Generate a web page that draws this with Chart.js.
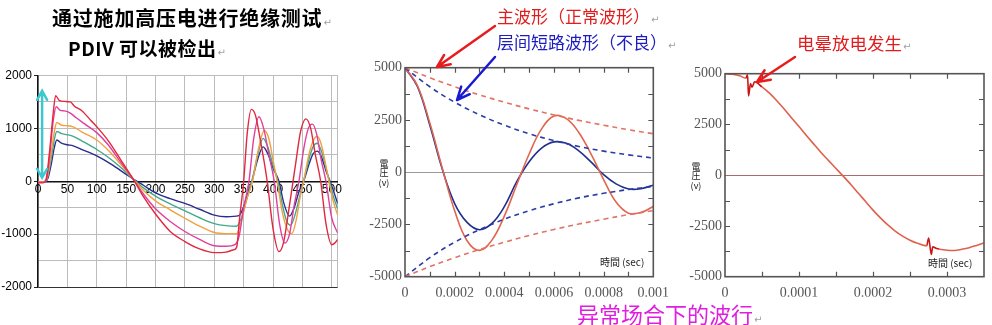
<!DOCTYPE html>
<html>
<head>
<meta charset="utf-8">
<script src="https://cdn.jsdelivr.net/npm/chart.js@4.4.1/dist/chart.umd.min.js"></script>
<style>
  body { margin: 0; width: 992px; height: 325px; position: relative; overflow: hidden; background: #fff;
         font-family: "Noto Sans CJK SC", sans-serif; }
  canvas { position: absolute; }
  .t { position: absolute; white-space: nowrap; }
  .rt { font-family: "DejaVu Sans", sans-serif; font-size: 10px; color: #a0a0a0; font-weight: normal; margin-left: 1px; }
  .tm { position: absolute; font-size: 10px; line-height: 12px; color: #222; white-space: nowrap;
        font-family: "Noto Sans CJK JP", sans-serif; }
</style>
</head>
<body>
<canvas id="scope" width="345" height="236" style="left:0;top:64px"></canvas>
<canvas id="surge" width="330" height="260" style="left:340px;top:50px"></canvas>
<canvas id="corona" width="322" height="255" style="left:670px;top:55px"></canvas>
<canvas id="arrows" width="992" height="325" style="left:0;top:0"></canvas>

<div class="t" style="left:52px;top:4px;font-size:20px;line-height:28px;font-weight:700;letter-spacing:0.8px">通过施加高压电进行绝缘测试<span class="rt">↵</span></div>
<div class="t" style="left:68px;top:34px;font-size:19px;line-height:28px;font-weight:700;letter-spacing:0.5px">PDIV 可以被检出<span class="rt">↵</span></div>

<div class="t" style="left:497px;top:4px;font-size:17px;line-height:24px;color:#e01c1c">主波形（正常波形）<span class="rt">↵</span></div>
<div class="t" style="left:497px;top:30px;font-size:17px;line-height:24px;color:#1c1cc0">层间短路波形（不良）<span class="rt">↵</span></div>
<div class="t" style="left:797px;top:31px;font-size:17.5px;line-height:24px;color:#e01c1c">电晕放电发生<span class="rt">↵</span></div>
<div class="t" style="left:577px;top:299px;font-size:22px;line-height:28px;color:#e01ee0">异常场合下的波行<span class="rt">↵</span></div>

<div class="tm" style="left:600px;top:256px">時間 (sec)</div>
<div class="tm" style="left:928px;top:257px">時間 (sec)</div>

<script>
// ---- PDIV scope traces (x = sample index, y = volts) ----
const scopeXTicks = [0, 50, 100, 150, 200, 250, 300, 350, 400, 450, 500, 510];
const scopeYTicks = [-2000, -1500, -1000, -500, 0, 500, 1000, 1500, 2000];

const navyX = [0, 12, 17, 23, 28, 32, 40, 50, 60, 75, 100, 125, 150, 165, 180, 200, 225, 250, 275, 300, 320, 342, 350, 358, 364, 374, 383, 391, 400, 410, 418, 428, 436, 444, 452, 462, 468, 475, 482, 490, 497, 504, 510];
const navyY = [-10, -10, 60, 350, 650, 780, 720, 690, 670, 600, 480, 320, 130, 20, -80, -220, -330, -420, -530, -640, -670, -650, -480, -200, 0, 420, 650, 520, 250, 0, -400, -660, -500, -200, 0, 350, 520, 570, 470, 200, 0, -220, -420];

const tealX = [0, 10, 16, 22, 28, 32, 40, 50, 60, 75, 100, 120, 140, 164, 180, 200, 225, 250, 275, 300, 320, 338, 345, 355, 364, 374, 383, 391, 400, 408, 416, 423, 430, 437, 445, 452, 462, 468, 475, 482, 489, 496, 503, 510];
const tealY = [-10, -10, 60, 400, 800, 940, 900, 880, 850, 760, 600, 450, 270, 20, -130, -280, -430, -560, -690, -800, -840, -850, -730, -350, 0, 500, 810, 650, 300, 0, -450, -750, -830, -650, -300, 0, 450, 650, 720, 580, 300, 0, -300, -520];

const orangeX = [0, 10, 16, 22, 28, 32, 40, 50, 60, 75, 100, 120, 140, 163, 180, 200, 225, 250, 275, 300, 320, 338, 345, 355, 365, 375, 385, 393, 400, 407, 416, 424, 432, 440, 446, 452, 462, 470, 475, 482, 488, 495, 503, 510];
const orangeY = [-10, -10, 80, 500, 950, 1110, 1060, 1050, 1030, 930, 780, 580, 330, 30, -180, -370, -540, -700, -850, -970, -990, -990, -800, -350, 0, 600, 960, 800, 400, 0, -600, -900, -990, -700, -300, 0, 550, 800, 850, 700, 400, 0, -400, -640];

const pinkX = [0, 10, 15, 20, 26, 31, 38, 45, 55, 65, 80, 100, 120, 140, 162, 180, 200, 225, 250, 275, 300, 320, 335, 342, 350, 359, 367, 376, 384, 393, 402, 411, 420, 428, 436, 444, 452, 460, 467, 474, 482, 490, 500, 510];
const pinkY = [-20, -20, 60, 500, 1150, 1410, 1340, 1330, 1290, 1200, 1080, 920, 680, 370, 40, -250, -520, -760, -950, -1100, -1220, -1230, -1200, -1050, -500, 0, 800, 1220, 1000, 500, 0, -800, -1170, -1000, -450, 0, 600, 1000, 1080, 900, 400, 0, -700, -980];

const redX = [0, 8, 14, 20, 26, 30, 36, 45, 55, 62, 75, 90, 100, 120, 140, 162, 180, 200, 225, 250, 275, 300, 320, 332, 338, 343, 350, 356, 363, 370, 378, 390, 400, 410, 418, 428, 438, 447, 456, 464, 472, 481, 490, 500, 505, 510];
const redY = [-30, -30, 50, 600, 1300, 1620, 1530, 1510, 1500, 1420, 1330, 1150, 1030, 760, 420, 40, -300, -620, -950, -1140, -1280, -1350, -1340, -1300, -1250, -700, 0, 900, 1360, 1250, 800, 0, -900, -1330, -1150, -450, 300, 950, 1180, 1000, 500, 0, -800, -1200, -1170, -1100];

// cyan double arrow marking the PDIV swing
const pdivMarkX = 7;
const pdivMarkSpan = [66, 1710];

// ---- surge test: normal vs. layer-short waveform (t in s, volts) ----
const surgeT = [0, 0.00005, 0.0001, 0.00015, 0.0002, 0.00025, 0.0003, 0.00035, 0.0004, 0.00045, 0.0005,
                0.00055, 0.0006, 0.00065, 0.0007, 0.00075, 0.0008, 0.00085, 0.0009, 0.00095, 0.001];
const mainWave =    [5000, 4150, 2350, 200, -1850, -3280, -3740, -3250, -2100, -600, 870,
                     2070, 2690, 2560, 1900, 850, -350, -1430, -1960, -1930, -1640];
const shortedWave = [5000, 4100, 2250, 150, -1500, -2400, -2750, -2450, -1650, -450, 500,
                     1150, 1450, 1380, 1020, 480, -120, -560, -800, -790, -620];
const envT = [0, 0.0001, 0.0002, 0.0003, 0.0004, 0.0005, 0.0006, 0.0007, 0.0008, 0.0009, 0.001];
const mainEnv =    [5000, 4520, 4090, 3700, 3350, 3030, 2740, 2480, 2250, 2030, 1840];
const shortedEnv = [5000, 4090, 3350, 2750, 2250, 1840, 1510, 1230, 1010, 830, 680];

const surgeXTicks = [0, 0.0002, 0.0004, 0.0006, 0.0008, 0.001];
const surgeXLabels = ['0', '0.0002', '0.0004', '0.0006', '0.0008', '0.001'];
const surgeXMarks = [0.0001, 0.0002, 0.0003, 0.0004, 0.0005, 0.0006, 0.0007, 0.0008, 0.0009];
const voltTicks = [-5000, -2500, 0, 2500, 5000];
const voltLabels = ['-5000', '-2500', '0', '2500', '5000'];
const voltMarks = [-3750, -2500, -1250, 1250, 2500, 3750];
const voltTitle = ['電', '圧', '(v)'];

// ---- corona discharge waveform ----
const coronaT = [0, 0.00001, 0.00002, 0.000028, 0.0000305, 0.0000318, 0.0000345, 0.0000365, 0.00004,
                 0.00005, 0.00006, 0.00007, 0.00008, 0.00009, 0.0001, 0.00011, 0.00012, 0.00013, 0.00014,
                 0.00015, 0.00016, 0.00017, 0.00018, 0.00019, 0.0002, 0.00021, 0.00022, 0.00023, 0.00024,
                 0.00025, 0.00026, 0.0002725, 0.0002752, 0.0002788, 0.0002807, 0.000286, 0.00029, 0.0003,
                 0.00031, 0.00032, 0.00033, 0.00034, 0.00035];
const coronaV = [5000, 4975, 4900, 4780, 4950, 3900, 4520, 4330, 4600,
                 4350, 4040, 3670, 3260, 2820, 2400, 1960, 1530, 1110, 720,
                 330, -60, -460, -880, -1300, -1720, -2100, -2450, -2750, -3000,
                 -3200, -3350, -3480, -3090, -3910, -3530, -3615, -3650, -3700,
                 -3710, -3650, -3570, -3460, -3340];
const coronaBursts = [[0.000027, 0.000041], [0.000272, 0.000287]];
const coronaXTicks = [0, 0.0001, 0.0002, 0.0003];
const coronaXLabels = ['0', '0.0001', '0.0002', '0.0003'];
const coronaXMarks = [0.00005, 0.0001, 0.00015, 0.0002, 0.00025, 0.0003];

const pts = (xs, ys) => xs.map((x, i) => ({ x: x, y: ys[i] }));
const serif = { family: "'Liberation Serif', 'DejaVu Serif', serif", size: 14 };

// box frame with inward tick marks, plus the stacked y title
const framePlugin = {
    id: 'frame',
    afterDatasetsDraw(chart, args, opts) {
        const { ctx, chartArea: a, scales: { x, y } } = chart;
        ctx.save();
        ctx.strokeStyle = opts.color;
        ctx.lineWidth = 1.2;
        ctx.beginPath();
        (opts.xMarks || []).forEach(v => {
            const px = Math.round(x.getPixelForValue(v)) + 0.5;
            ctx.moveTo(px, a.bottom); ctx.lineTo(px, a.bottom - opts.len);
            ctx.moveTo(px, a.top); ctx.lineTo(px, a.top + opts.len);
        });
        (opts.yMarks || []).forEach(v => {
            const py = Math.round(y.getPixelForValue(v)) + 0.5;
            ctx.moveTo(a.left, py); ctx.lineTo(a.left + opts.len, py);
            ctx.moveTo(a.right, py); ctx.lineTo(a.right - opts.len, py);
        });
        ctx.stroke();
        ctx.lineWidth = 1.6;
        ctx.strokeRect(a.left, a.top, a.right - a.left, a.bottom - a.top);

        if (opts.title) {
            const cx = a.left - opts.titleGap;
            const cy = y.getPixelForValue(0);
            ctx.fillStyle = '#222';
            ctx.font = "9px 'Noto Sans CJK JP', sans-serif";
            ctx.textAlign = 'center';
            ctx.textBaseline = 'middle';
            opts.title.forEach((s, i) => ctx.fillText(s, cx, cy - 9 + i * 9.5));
        }
        ctx.restore();
    }
};

// vertical double-headed arrow on the scope plot
const spanArrow = {
    id: 'spanArrow',
    afterDatasetsDraw(chart) {
        const { ctx, scales: { x, y } } = chart;
        const px = x.getPixelForValue(pdivMarkX);
        const top = y.getPixelForValue(pdivMarkSpan[1]);
        const bot = y.getPixelForValue(pdivMarkSpan[0]);
        ctx.save();
        ctx.strokeStyle = '#3cc8cc';
        ctx.lineWidth = 2.5;
        ctx.lineCap = 'round';
        ctx.beginPath();
        ctx.moveTo(px, top); ctx.lineTo(px, bot);
        ctx.moveTo(px - 5, top + 9); ctx.lineTo(px, top); ctx.lineTo(px + 5, top + 9);
        ctx.moveTo(px - 5, bot - 9); ctx.lineTo(px, bot); ctx.lineTo(px + 5, bot - 9);
        ctx.stroke();
        ctx.restore();
    }
};

const scopeSeries = [
    { x: redX, y: redY, color: '#e2283e' },
    { x: pinkX, y: pinkY, color: '#e0409c' },
    { x: orangeX, y: orangeY, color: '#f2a040' },
    { x: tealX, y: tealY, color: '#40aa8a' },
    { x: navyX, y: navyY, color: '#2a2c8e' }
];

const scopeFont = { family: "'Liberation Sans Narrow', 'Liberation Sans', sans-serif", size: 12 };

new Chart(document.getElementById('scope'), {
    type: 'line',
    data: {
        datasets: scopeSeries.map(s => ({
            data: pts(s.x, s.y),
            borderColor: s.color,
            borderWidth: 1.4,
            pointRadius: 0,
            cubicInterpolationMode: 'monotone'
        }))
    },
    options: {
        responsive: false,
        animation: false,
        layout: { padding: { left: 0, top: 11.5, right: 7.3, bottom: 13 } },
        plugins: { legend: { display: false }, tooltip: { enabled: false } },
        scales: {
            x: {
                type: 'linear', position: { y: 0 }, min: 0, max: 510,
                afterBuildTicks: s => { s.ticks = scopeXTicks.map(v => ({ value: v })); },
                ticks: { callback: v => (v === 510 ? '' : String(v)), font: scopeFont, color: '#000',
                         padding: 1, maxRotation: 0, autoSkip: false },
                grid: { color: '#bcbcbc', drawTicks: false },
                border: { color: '#111', width: 1.5 }
            },
            y: {
                min: -2000, max: 2000,
                afterBuildTicks: s => { s.ticks = scopeYTicks.map(v => ({ value: v })); },
                afterFit: s => { s.width = 38; },
                ticks: { callback: v => (v % 1000 === 0 ? String(v) : ''), font: scopeFont, color: '#000', padding: 2 },
                grid: {
                    color: c => (c.tick && c.tick.value === -2000 ? '#333' : '#bcbcbc'),
                    tickLength: 4,
                    tickColor: c => (c.tick && c.tick.value % 1000 === 0 ? '#222' : 'rgba(0,0,0,0)')
                },
                border: { color: '#111', width: 1.5 }
            }
        }
    },
    plugins: [spanArrow]
});

new Chart(document.getElementById('surge'), {
    type: 'line',
    data: {
        datasets: [
            { data: pts(envT, mainEnv), borderColor: '#e07464', borderDash: [5, 4] },
            { data: pts(envT, mainEnv.map(v => -v)), borderColor: '#e07464', borderDash: [5, 4] },
            { data: pts(envT, shortedEnv), borderColor: '#2a3ca6', borderDash: [5, 4] },
            { data: pts(envT, shortedEnv.map(v => -v)), borderColor: '#2a3ca6', borderDash: [5, 4] },
            { data: pts(surgeT, mainWave), borderColor: '#e0664f' },
            { data: pts(surgeT, shortedWave), borderColor: '#1f2f8e' }
        ].map(d => Object.assign({ borderWidth: 1.6, pointRadius: 0, tension: 0.4 }, d))
    },
    options: {
        responsive: false,
        animation: false,
        layout: { padding: { left: 0, top: 17.7, right: 16.7, bottom: 13.3 } },
        plugins: {
            legend: { display: false }, tooltip: { enabled: false },
            frame: { color: '#555', len: 5, xMarks: surgeXMarks, yMarks: voltMarks, title: voltTitle, titleGap: 21 }
        },
        scales: {
            x: {
                type: 'linear', min: 0, max: 0.001,
                afterBuildTicks: s => { s.ticks = surgeXTicks.map(v => ({ value: v })); },
                afterFit: s => { s.height = 20; },
                ticks: { callback: (v, i) => surgeXLabels[i], font: serif, color: '#555', padding: 0,
                         maxRotation: 0, autoSkip: false },
                grid: { display: false },
                border: { display: false }
            },
            y: {
                min: -5000, max: 5000,
                afterBuildTicks: s => { s.ticks = voltTicks.map(v => ({ value: v })); },
                afterFit: s => { s.width = 65; },
                ticks: { callback: (v, i) => voltLabels[i], font: serif, color: '#555', padding: 3 },
                grid: { color: c => (c.tick && c.tick.value === 0 ? '#9a9a9a' : 'rgba(0,0,0,0)'), drawTicks: false },
                border: { display: false }
            }
        }
    },
    plugins: [framePlugin]
});

const inBurst = t => coronaBursts.some(b => t >= b[0] && t < b[1]);

new Chart(document.getElementById('corona'), {
    type: 'line',
    data: {
        datasets: [{
            data: pts(coronaT, coronaV),
            borderColor: '#e0604c',
            borderWidth: 1.6,
            pointRadius: 0,
            cubicInterpolationMode: 'monotone',
            segment: { borderColor: c => (inBurst(c.p0.parsed.x) ? '#cc1414' : undefined) }
        }]
    },
    options: {
        responsive: false,
        animation: false,
        layout: { padding: { left: 0, top: 18.7, right: 8, bottom: 13.3 } },
        plugins: {
            legend: { display: false }, tooltip: { enabled: false },
            frame: { color: '#555', len: 5, xMarks: coronaXMarks, yMarks: voltMarks, title: voltTitle, titleGap: 29 }
        },
        scales: {
            x: {
                type: 'linear', min: 0, max: 0.00035,
                afterBuildTicks: s => { s.ticks = coronaXTicks.map(v => ({ value: v })); },
                afterFit: s => { s.height = 20; },
                ticks: { callback: (v, i) => coronaXLabels[i], font: serif, color: '#555', padding: 0,
                         maxRotation: 0, autoSkip: false },
                grid: { display: false },
                border: { display: false }
            },
            y: {
                min: -5000, max: 5000,
                afterBuildTicks: s => { s.ticks = voltTicks.map(v => ({ value: v })); },
                afterFit: s => { s.width = 55; },
                ticks: { callback: (v, i) => voltLabels[i], font: serif, color: '#555', padding: 3 },
                grid: { color: c => (c.tick && c.tick.value === 0 ? '#a86c6c' : 'rgba(0,0,0,0)'), drawTicks: false },
                border: { display: false }
            }
        }
    },
    plugins: [framePlugin]
});

// callout arrows from the captions to the curves
function callout(ctx, x1, y1, x2, y2, color) {
    const a = Math.atan2(y2 - y1, x2 - x1), h = 14, w = 0.42;
    ctx.strokeStyle = color;
    ctx.lineWidth = 2.5;
    ctx.lineCap = 'round';
    ctx.lineJoin = 'round';
    ctx.beginPath();
    ctx.moveTo(x1, y1); ctx.lineTo(x2, y2);
    ctx.moveTo(x2 - h * Math.cos(a - w), y2 - h * Math.sin(a - w));
    ctx.lineTo(x2, y2);
    ctx.lineTo(x2 - h * Math.cos(a + w), y2 - h * Math.sin(a + w));
    ctx.stroke();
}
const actx = document.getElementById('arrows').getContext('2d');
callout(actx, 495, 26, 437, 67, '#e81c1c');
callout(actx, 495, 57, 457, 100, '#1a1ad2');
callout(actx, 795, 57, 757, 82, '#e81c1c');
</script>
</body>
</html>
